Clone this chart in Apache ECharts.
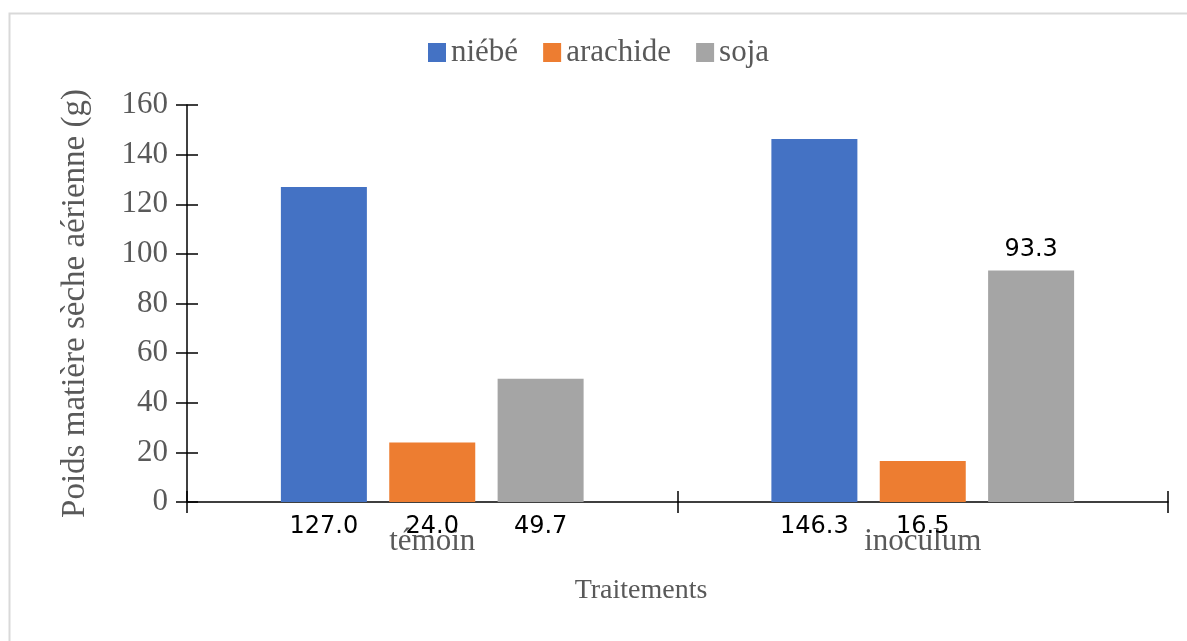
<!DOCTYPE html>
<html>
<head>
<meta charset="utf-8">
<script src="https://cdn.jsdelivr.net/npm/echarts@6/dist/echarts.min.js"></script>
<style>
  html, body { margin: 0; padding: 0; background: #ffffff; }
  #chart { width: 1187px; height: 641px; }
</style>
</head>
<body>
<div id="chart"></div>
<script>
// Dry aerial biomass per legume and treatment (g)
const categories = ['témoin', 'inoculum'];
const seriesNames = ['niébé', 'arachide', 'soja'];
const niebe = [127.0, 146.3];
const arachide = [24.0, 16.5];
const soja = [49.7, 93.3];
const yMin = 0;
const yMax = 160;
const yStep = 20;

const colors = ['#4472C4', '#ED7D31', '#A5A5A5'];
const serif = '"Liberation Serif", "Times New Roman", serif';
const textGray = '#595959';
const values = [niebe, arachide, soja];

// the soja / inoculum value sits above its bar, the others under the axis
function labelPlacement(seriesIdx, catIdx) {
  return (seriesIdx === 2 && catIdx === 1) ? 'top' : 'bottom';
}

const series = seriesNames.map((name, s) => ({
  name: name,
  type: 'bar',
  xAxisIndex: 0,
  yAxisIndex: 0,
  barWidth: 86,
  barGap: '26%',
  itemStyle: { color: colors[s] },
  data: values[s].map((v, c) => {
    const pos = labelPlacement(s, c);
    return {
      value: v,
      label: {
        show: true,
        position: pos,
        distance: pos === 'top' ? 9 : 13,
        formatter: p => p.value.toFixed(1),
        color: '#000000',
        fontFamily: '"DejaVu Sans", sans-serif',
        fontSize: 24
      }
    };
  })
}));

const tickStyle = { color: '#000000', width: 1.5 };

const option = {
  animation: false,
  backgroundColor: '#ffffff',
  graphic: [{
    type: 'rect',
    left: 7, top: 11,
    shape: { width: 1200, height: 650 },
    style: { fill: 'none', stroke: '#D9D9D9', lineWidth: 2 },
    silent: true,
    z: -1
  }],
  legend: {
    data: seriesNames,
    left: 423,
    top: 32,
    itemWidth: 18,
    itemHeight: 19,
    itemGap: 25,
    icon: 'rect',
    textStyle: { fontFamily: serif, fontSize: 31, color: textGray }
  },
  grid: { left: 187, right: 19, top: 105, bottom: 139 },
  xAxis: [{
    type: 'category',
    data: categories,
    position: 'bottom',
    axisLine: { show: true, lineStyle: tickStyle },
    axisTick: { show: true, alignWithLabel: false, length: 11, lineStyle: tickStyle },
    axisLabel: { margin: 24, fontFamily: serif, fontSize: 31, color: textGray },
    name: 'Traitements',
    nameLocation: 'middle',
    nameGap: 75,
    nameTextStyle: { fontFamily: serif, fontSize: 28, color: textGray, padding: [0, 73, 0, 0] }
  }, {
    type: 'category',
    data: categories,
    position: 'bottom',
    axisLine: { show: false },
    axisTick: { show: true, inside: true, alignWithLabel: false, length: 11, lineStyle: tickStyle },
    axisLabel: { show: false }
  }],
  yAxis: [{
    type: 'value',
    min: yMin, max: yMax, interval: yStep,
    position: 'left',
    splitLine: { show: false },
    axisLine: { show: true, lineStyle: tickStyle },
    axisTick: { show: true, length: 11, lineStyle: tickStyle },
    axisLabel: { margin: 19, fontFamily: serif, fontSize: 31, color: textGray },
    name: 'Poids matière sèche aérienne (g)',
    nameLocation: 'middle',
    nameGap: 95,
    nameRotate: 90,
    nameTextStyle: { fontFamily: serif, fontSize: 33, color: textGray }
  }, {
    type: 'value',
    min: yMin, max: yMax, interval: yStep,
    position: 'left',
    splitLine: { show: false },
    axisLine: { show: false },
    axisTick: { show: true, inside: true, length: 11, lineStyle: tickStyle },
    axisLabel: { show: false }
  }],
  series: series
};

const chart = echarts.init(document.getElementById('chart'), null, { renderer: 'canvas' });
chart.setOption(option);
</script>
</body>
</html>
